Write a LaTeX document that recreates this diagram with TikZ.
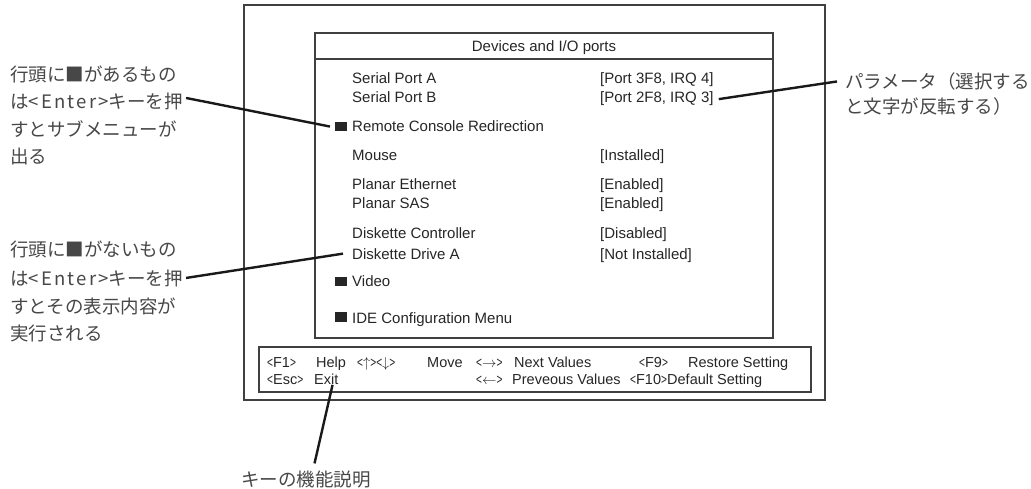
\documentclass[tikz,border=0pt]{standalone}
\usepackage{fontspec}
\setmainfont{Liberation Sans}
\newfontfamily\narrowfont{Liberation Sans}[FakeStretch=0.7]
\newfontfamily\jpfont{Noto Sans CJK JP}

\tikzset{
  frame/.style={draw=black!75, line width=1.6pt},
  item/.style={anchor=base west, inner sep=0pt, text=black!85, font=\fontsize{15}{18}\selectfont},
  keytxt/.style={anchor=base west, inner sep=0pt, text=black!85, font=\fontsize{14.5}{17}\selectfont},
  note/.style={anchor=base west, inner sep=0pt, text=black!72, font=\jpfont\fontsize{18.5}{22}\selectfont},
  submark/.style={anchor=south west, fill=black!85, inner sep=0pt, minimum width=11.5pt, minimum height=9.5pt},
  leader/.style={line width=2.4pt, black!90},
}
\newcommand{\kbd}[1]{{\narrowfont<}#1{\narrowfont>}}
\newcommand{\enterkey}{{\addfontfeature{LetterSpace=12}<Enter>}}

\begin{document}
\begin{tikzpicture}[x=1pt, y=-1pt]
        \useasboundingbox (0,0) rectangle (1031,489);
        % screen frames
        \draw[frame] (244,5) rectangle (825,400);
        \draw[frame] (315,33) rectangle (773,338);
        \draw[frame] (315,59) -- (773,59);
        \draw[frame] (259,347) rectangle (811,392);
        % menu title
        \node[item, anchor=base] (title) at (544,51.5) {Devices and I/O ports};
        % menu items
        \node[item] (spa)   at (352,84)  {Serial Port A};
        \node[item] (spb)   at (352,103) {Serial Port B};
        \node[item] (rcr)   at (352,131.5) {Remote Console Redirection};
        \node[item] (mouse) at (352,160.5) {Mouse};
        \node[item] (eth)   at (352,190) {Planar Ethernet};
        \node[item] (sas)   at (352,209) {Planar SAS};
        \node[item] (fdc)   at (352,239) {Diskette Controller};
        \node[item] (drva)  at (352,259) {Diskette Drive A};
        \node[item] (video) at (352,287) {Video};
        \node[item] (ide)   at (352,323) {IDE Configuration Menu};
        % values
        \node[item] (spaval)   at (600,84)  {[Port 3F8, IRQ 4]};
        \node[item] (spbval)   at (600,103) {[Port 2F8, IRQ 3]};
        \node[item] (mouseval) at (600,160.5) {[Installed]};
        \node[item] (ethval)   at (600,190) {[Enabled]};
        \node[item] (sasval)   at (600,209) {[Enabled]};
        \node[item] (fdcval)   at (600,239) {[Disabled]};
        \node[item] (drvaval)  at (600,259) {[Not Installed]};
        % sub menu marks
        \node[submark] (rcrmark)   at (335,131.5) {};
        \node[submark] (videomark) at (335,286.5) {};
        \node[submark] (idemark)   at (335,322) {};
        % function keys
        \node[keytxt] (f1)    at (267,367) {\kbd{F1}};
        \node[keytxt] (help)  at (316,367) {Help};
        \node[keytxt] (updn)  at (357,367) {\kbd{$\uparrow$}\kbd{$\downarrow$}};
        \node[keytxt] (move)  at (427,367) {Move};
        \node[keytxt] (right) at (476,367) {\kbd{$\rightarrow$}};
        \node[keytxt] (next)  at (514,367) {Next Values};
        \node[keytxt] (f9)    at (639,367) {\kbd{F9}};
        \node[keytxt] (rest)  at (688,367) {Restore Setting};
        \node[keytxt] (esc)   at (267,384.5) {\kbd{Esc}};
        \node[keytxt] (exit)  at (314,384.5) {Exit};
        \node[keytxt] (left)  at (476,384.5) {\kbd{$\leftarrow$}};
        \node[keytxt] (prev)  at (512,384.5) {Preveous Values};
        \node[keytxt] (f10)   at (630,384.5) {\kbd{F10}};
        \node[keytxt] (dflt)  at (667,384.5) {Default Setting};
        % notes left
        \node[note] (subA1) at (10,82)  {行頭に■があるもの};
        \node[note] (subA2) at (10,109) {は\enterkey キーを押};
        \node[note] (subA3) at (10,137) {すとサブメニューが};
        \node[note] (subA4) at (10,164) {出る};
        \node[note] (runB1) at (10,257) {行頭に■がないもの};
        \node[note] (runB2) at (10,285) {は\enterkey キーを押};
        \node[note] (runB3) at (10,313.5) {すとその表示内容が};
        \node[note] (runB4) at (10,340) {実行される};
        % notes right and bottom
        \node[note] (parm1) at (845,88.5)  {パラメータ（選択する};
        \node[note] (parm2) at (845,113.5) {と文字が反転する）};
        \node[note] (keylbl) at (241,486) {キーの機能説明};
        % leader lines
        \draw[leader] ([xshift=3pt, yshift=4pt]subA2.east) -- ([xshift=-5pt]rcrmark.west);
        \draw[leader] ([xshift=3pt]runB2.east) -- ([xshift=-9pt]drva.west);
        \draw[leader] ([xshift=5pt]spbval.east) -- ([xshift=-8pt]parm1.west);
        \draw[leader, shorten >=7pt] ([xshift=-6pt]exit.south east) -- ([xshift=7pt]keylbl.north);
\end{tikzpicture}
\end{document}
